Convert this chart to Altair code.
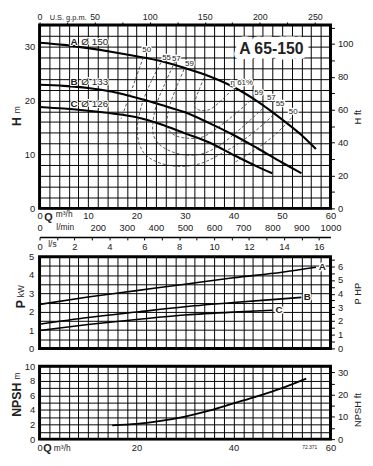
import altair as alt
import pandas as pd

FONT = "Liberation Sans"
TXT = "#222"

# ---------------- data ----------------
# Head curves  (Q m3/h , H m)
qa = [0, 5, 10, 15, 20, 25, 30, 35, 40, 45, 50, 54, 57]
ha = [30.7, 30.3, 29.7, 29.0, 28.2, 27.3, 26.0, 24.5, 22.5, 19.8, 16.5, 13.6, 11.0]
qb = [0, 5, 10, 15, 20, 25, 30, 35, 40, 45, 50, 54]
hb = [22.9, 22.7, 22.3, 21.6, 20.5, 19.2, 17.8, 15.8, 13.6, 11.1, 8.5, 6.5]
qc = [0, 5, 10, 15, 20, 25, 30, 35, 40, 45, 48]
hc = [18.8, 18.5, 18.1, 17.6, 16.9, 15.6, 13.9, 12.2, 9.9, 7.7, 6.5]
impellers = ["A", "B", "C"]
diameters = ["Ø 150", "Ø 133", "Ø 126"]
imp_label_q = [7.1, 7.1, 7.1]
diam_label_q = [8.6, 8.6, 8.6]
imp_label_h = [30.9, 23.4, 19.4]
model_name = ["A 65-150"]
model_q = [47.8]
model_h = [29.6]

# Efficiency iso-curves (dashed)
e50l_q = [21.4, 19.0, 16.8]
e50l_h = [28.0, 22.0, 16.6]
e55_q = [25.5, 23.0, 21.2, 20.2, 20.4, 21.5, 23.5, 26.5, 30.0, 33.5, 37.0, 41.5, 46.0, 49.0]
e55_h = [27.8, 23.5, 19.5, 15.5, 12.5, 10.3, 8.9, 8.0, 7.8, 8.4, 9.9, 12.3, 15.5, 18.0]
e57_q = [27.9, 25.8, 24.2, 23.4, 23.5, 24.8, 27.0, 30.0, 33.5, 37.0, 41.5, 46.5]
e57_h = [27.2, 23.0, 19.5, 16.0, 13.5, 11.8, 10.6, 9.9, 10.1, 11.6, 14.8, 18.9]
e59_q = [30.2, 28.5, 27.0, 26.3, 26.6, 28.0, 30.5, 33.5, 36.5, 40.5, 44.5]
e59_h = [26.6, 23.0, 19.5, 16.5, 14.6, 13.5, 13.0, 13.2, 14.8, 17.6, 20.8]
e61_q = [34.3, 33.0, 32.1, 32.0, 33.0, 35.0, 37.0, 39.7]
e61_h = [25.0, 22.2, 20.0, 18.8, 18.2, 18.3, 19.6, 22.0]
e50r_q = [40.4, 44.0, 48.5, 52.0]
e50r_h = [8.6, 10.6, 13.6, 16.8]
eff_label_text = ["50", "55", "57", "59", "η 61%", "59", "57", "55", "50"]
eff_label_q = [22.1, 26.2, 28.2, 30.9, 41.7, 45.2, 47.8, 49.6, 52.3]
eff_label_h = [29.3, 27.9, 27.6, 26.8, 23.2, 21.4, 20.5, 19.4, 17.9]

# Power curves (kW)
pq_a = [0, 10, 20, 30, 40, 50, 57]
pa = [2.4, 2.8, 3.15, 3.5, 3.85, 4.15, 4.42]
pq_b = [0, 10, 20, 30, 40, 50, 54]
pb = [1.32, 1.68, 1.98, 2.27, 2.5, 2.7, 2.78]
pq_c = [0, 10, 20, 30, 40, 48]
pc = [0.98, 1.3, 1.58, 1.82, 1.98, 2.08]
power_label_q = [58.3, 55.2, 49.4]
power_label_p = [4.45, 2.8, 2.08]

# NPSH (m)
nq = [15, 20, 25, 30, 35, 40, 45, 50, 55]
nv = [1.9, 2.1, 2.5, 3.1, 3.9, 4.9, 5.9, 7.0, 8.3]

# axis tick values and texts
q_grid = list(range(0, 61, 2))
h_grid = list(range(0, 35, 2))
p_grid = [i * 0.5 for i in range(11)]
n_grid = list(range(0, 11))
gpm_ticks = list(range(0, 251, 25))
ft_ticks = list(range(0, 111, 10))
hp_ticks = [i * 0.5 for i in range(14)]
nft_ticks = list(range(0, 31, 5))
lmin_ticks = [0, 200, 300, 400, 500, 600, 700, 800, 900, 1000]
ls_ticks = list(range(0, 17))
unit_texts = ["U.S. g.p.m.", "Q", "m³/h", "l/min", "l/s", "72.371"]
left_titles = ["H", "m", "P", "kW", "NPSH", "m"]
right_titles = ["H ft", "P HP", "NPSH ft"]

GPM_MAX = 60 * 4.40287
FT_MAX = 34 * 3.28084
HP_MAX = 5 / 0.7457
NFT_MAX = 10 * 3.28084
LMIN_MAX = 1000
LS_MAX = 60 / 3.6

W = 295
H_H, H_P, H_N = 186, 93, 74
NOSTROKE = alt.ViewBackground(stroke="transparent")


def grid_axis(values, label_expr=None, **kw):
    base = dict(values=values, grid=True, gridColor="#000", gridWidth=1, gridOpacity=1,
                ticks=False, domain=False, labelFlush=False, labelOverlap=False,
                labelFont=FONT, labelFontSize=9.5, labelColor=TXT, title=None)
    if label_expr is not None:
        base["labelExpr"] = label_expr
    base.update(kw)
    return alt.Axis(**base)


def halo_layers(df, x, y, size, weight="normal", align="center", halo=3):
    common = dict(font=FONT, fontSize=size, fontWeight=weight, align=align, baseline="middle")
    h = alt.Chart(df).mark_text(fill="white", stroke="white", strokeWidth=halo,
                                strokeJoin="round", **common).encode(x, y, text="t:N")
    t = alt.Chart(df).mark_text(color=TXT, **common).encode(x, y, text="t:N")
    return [h, t]


def px_text(txt, x, y, size, weight="normal", angle=0, align="center"):
    return alt.Chart(pd.DataFrame({"t": [txt]})).mark_text(
        font=FONT, fontSize=size, fontWeight=weight, angle=angle, align=align,
        baseline="middle", color=TXT).encode(x=alt.value(x), y=alt.value(y), text="t:N")


INT_EVERY = "datum.value % {n} === 0 ? format(datum.value, 'd') : ''"

xq = alt.Scale(domain=[0, 60], nice=False, zero=False)

# ---------------- Head panel ----------------
yh = alt.Scale(domain=[0, 34], nice=False, zero=False)
XH = alt.X("q:Q", scale=xq, axis=grid_axis(q_grid, INT_EVERY.format(n=10), labelPadding=2))
YH = alt.Y("h:Q", scale=yh, axis=grid_axis(h_grid, INT_EVERY.format(n=10), labelPadding=5))

head_df = pd.DataFrame({"q": qa + qb + qc, "h": ha + hb + hc,
                        "curve": ["A"] * len(qa) + ["B"] * len(qb) + ["C"] * len(qc)})
head_lines = alt.Chart(head_df).mark_line(color="#000", strokeWidth=2.1, interpolate="monotone").encode(
    XH, YH, detail="curve:N")

rows = []
for name, qs, hs in [("50L", e50l_q, e50l_h), ("55", e55_q, e55_h), ("57", e57_q, e57_h),
                     ("59", e59_q, e59_h), ("61", e61_q, e61_h), ("50R", e50r_q, e50r_h)]:
    for i, (q, h) in enumerate(zip(qs, hs)):
        rows.append({"q": q, "h": h, "curve": name, "i": i})
eff_df = pd.DataFrame(rows)
eff_lines = alt.Chart(eff_df).mark_line(color="#333", strokeWidth=0.8, strokeDash=[3, 2],
                                        interpolate="catmull-rom").encode(
    XH, YH, detail="curve:N", order="i:Q")

effl_df = pd.DataFrame({"q": eff_label_q, "h": eff_label_h, "t": eff_label_text})
imp_df = pd.DataFrame({"q": imp_label_q, "h": imp_label_h, "t": impellers})
dia_df = pd.DataFrame({"q": diam_label_q, "h": imp_label_h, "t": diameters})
model_df = pd.DataFrame({"q": model_q, "h": model_h, "t": model_name})

h_layers = [head_lines, eff_lines]
h_layers += halo_layers(effl_df, XH, YH, 8, halo=2.5)
h_layers += halo_layers(imp_df, XH, YH, 10, weight="bold", halo=2)
h_layers += halo_layers(dia_df, XH, YH, 10, align="left", halo=2)
h_layers += halo_layers(model_df, XH, YH, 16, weight="bold", halo=11)
h_layers += [
    px_text(left_titles[0], -23, 98, 12.5, "bold", 270),
    px_text(left_titles[1], -23, 86, 8.5, "normal", 270),
    px_text(unit_texts[0], 29, -7, 7.5),
    px_text(unit_texts[1], 9, 196, 11, "bold"),
    px_text(unit_texts[2], 25, 191.5, 8.5),
]

dummy_h = alt.Chart(pd.DataFrame({"g": [0.0], "f": [0.0]})).mark_point(opacity=0).encode(
    x=alt.X("g:Q", scale=alt.Scale(domain=[0, GPM_MAX], nice=False, zero=False),
            axis=alt.Axis(orient="top", values=gpm_ticks, grid=False, domain=False,
                          labelExpr=INT_EVERY.format(n=50),
                          tickSize=3, tickColor="#000", labelPadding=0, labelFlush=False,
                          labelOverlap=False, labelFontSize=9, labelColor=TXT, title=None)),
    y=alt.Y("f:Q", scale=alt.Scale(domain=[0, FT_MAX], nice=False, zero=False),
            axis=alt.Axis(orient="right", values=ft_ticks, grid=False, domain=False,
                          labelExpr=INT_EVERY.format(n=20),
                          tickSize=4, tickColor="#000", labelPadding=3, labelFlush=False,
                          labelOverlap=False, labelFontSize=9.5, labelColor=TXT,
                          title=right_titles[0], titleAngle=270, titleX=27, titleY=93,
                          titleAlign="center", titleBaseline="middle",
                          titleFontWeight="normal", titleFontSize=9.5, titleColor=TXT)),
)
h_panel = alt.layer(alt.layer(*h_layers), dummy_h).resolve_scale(
    x="independent", y="independent").properties(width=W, height=H_H)

# ---------------- l/min and l/s scales ----------------
lmin_panel = alt.layer(
    alt.Chart(pd.DataFrame({"v": [0.0]})).mark_point(opacity=0).encode(
        x=alt.X("v:Q", scale=alt.Scale(domain=[0, LMIN_MAX], nice=False, zero=False),
                axis=alt.Axis(values=lmin_ticks, grid=False, domain=False, ticks=False,
                              format="d", labelPadding=0.5, labelFlush=False, labelOverlap=False,
                              labelFontSize=9.5, labelColor=TXT, title=None))),
    px_text(unit_texts[3], 26, 19, 8.5),
).properties(width=W, height=14, view=NOSTROKE)

ls_panel = alt.layer(
    alt.Chart(pd.DataFrame({"v": [0.0]})).mark_point(opacity=0).encode(
        x=alt.X("v:Q", scale=alt.Scale(domain=[0, LS_MAX], nice=False, zero=False),
                axis=alt.Axis(values=ls_ticks, grid=False, domain=True, domainColor="#000",
                              domainWidth=1.5, ticks=True, tickSize=3, tickColor="#000",
                              labelExpr=INT_EVERY.format(n=2),
                              labelPadding=2, labelFlush=False, labelOverlap=False,
                              labelFontSize=9.5, labelColor=TXT, title=None))),
    px_text(unit_texts[4], 13, 22, 8.5),
).properties(width=W, height=15, view=NOSTROKE)


def spacer(h):
    return alt.Chart(pd.DataFrame({"v": [0]})).mark_point(opacity=0).properties(
        width=W, height=h, view=NOSTROKE)


# ---------------- Power panel ----------------
yp = alt.Scale(domain=[0, 5], nice=False, zero=False)
XP = alt.X("q:Q", scale=xq, axis=grid_axis(q_grid, labels=False))
YP = alt.Y("p:Q", scale=yp, axis=grid_axis(p_grid, INT_EVERY.format(n=1), labelPadding=6))
pow_df = pd.DataFrame({"q": pq_a + pq_b + pq_c, "p": pa + pb + pc,
                       "curve": ["A"] * len(pq_a) + ["B"] * len(pq_b) + ["C"] * len(pq_c)})
pow_lines = alt.Chart(pow_df).mark_line(color="#000", strokeWidth=1.6, interpolate="monotone").encode(
    XP, YP, detail="curve:N")
plab_df = pd.DataFrame({"q": power_label_q, "p": power_label_p, "t": impellers})
p_layers = [pow_lines] + halo_layers(plab_df, XP, YP, 10, weight="bold", halo=3)
p_layers += [
    px_text(left_titles[2], -19, 48, 12.5, "bold", 270),
    px_text(left_titles[3], -19, 35, 8.5, "normal", 270),
]
dummy_p = alt.Chart(pd.DataFrame({"f": [0.0]})).mark_point(opacity=0).encode(
    y=alt.Y("f:Q", scale=alt.Scale(domain=[0, HP_MAX], nice=False, zero=False),
            axis=alt.Axis(orient="right", values=hp_ticks, grid=False, domain=False,
                          labelExpr=INT_EVERY.format(n=1),
                          tickSize=4, tickColor="#000", labelPadding=3, labelFlush=False,
                          labelOverlap=False, labelFontSize=9.5, labelColor=TXT,
                          title=right_titles[1], titleAngle=270, titleX=27, titleY=37,
                          titleAlign="center", titleBaseline="middle",
                          titleFontWeight="normal", titleFontSize=9.5, titleColor=TXT)))
p_panel = alt.layer(alt.layer(*p_layers), dummy_p).resolve_scale(y="independent").properties(
    width=W, height=H_P)

# ---------------- NPSH panel ----------------
yn = alt.Scale(domain=[0, 10], nice=False, zero=False)
XN = alt.X("q:Q", scale=xq, axis=grid_axis(q_grid, INT_EVERY.format(n=20), labelPadding=4))
YN = alt.Y("n:Q", scale=yn, axis=grid_axis(n_grid, INT_EVERY.format(n=2), labelPadding=5))
npsh_df = pd.DataFrame({"q": nq, "n": nv})
npsh_line = alt.Chart(npsh_df).mark_line(color="#000", strokeWidth=1.8, interpolate="monotone").encode(XN, YN)
n_layers = [npsh_line,
            px_text(left_titles[4], -23, 34, 12.5, "bold", 270),
            px_text(left_titles[5], -23, 10, 8.5, "normal", 270),
            px_text(unit_texts[1], 8, 84.5, 11, "bold"),
            px_text(unit_texts[2], 23, 83.5, 8.5),
            px_text(unit_texts[5], 274, 82, 5)]
dummy_n = alt.Chart(pd.DataFrame({"f": [0.0]})).mark_point(opacity=0).encode(
    y=alt.Y("f:Q", scale=alt.Scale(domain=[0, NFT_MAX], nice=False, zero=False),
            axis=alt.Axis(orient="right", values=nft_ticks, grid=False, domain=False,
                          labelExpr=INT_EVERY.format(n=10),
                          tickSize=4, tickColor="#000", labelPadding=3, labelFlush=False,
                          labelOverlap=False, labelFontSize=9.5, labelColor=TXT,
                          title=right_titles[2], titleAngle=270, titleX=27, titleY=44,
                          titleAlign="center", titleBaseline="middle",
                          titleFontWeight="normal", titleFontSize=9.5, titleColor=TXT)))
n_panel = alt.layer(alt.layer(*n_layers), dummy_n).resolve_scale(y="independent").properties(
    width=W, height=H_N)

chart = alt.vconcat(h_panel, lmin_panel, ls_panel, spacer(20), p_panel, spacer(18), n_panel,
                    spacing=0, bounds="flush").properties(
    padding={"left": 1, "top": 0, "right": 2, "bottom": 2}
).configure_view(stroke="#000", strokeWidth=3).configure_axis(
    labelFont=FONT, titleFont=FONT).configure_text(font=FONT)

chart.save("out.html", embed_options={"renderer": "svg", "actions": False})
